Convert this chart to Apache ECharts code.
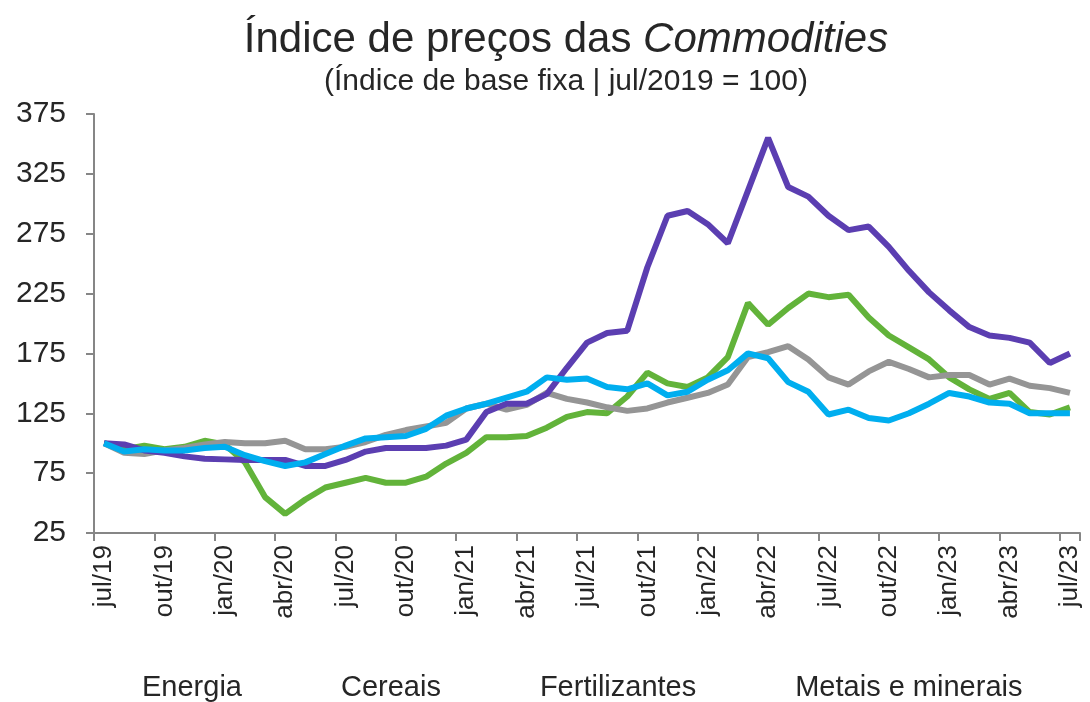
<!DOCTYPE html>
<html>
<head>
<meta charset="utf-8">
<script src="https://cdn.jsdelivr.net/npm/echarts@6/dist/echarts.min.js"></script>
<style>
html,body{margin:0;padding:0;background:#fff;}
#chart{width:1090px;height:702px;}
</style>
</head>
<body>
<div id="chart"></div>
<script>
const months = ['jul/19','ago/19','set/19','out/19','nov/19','dez/19',
  'jan/20','fev/20','mar/20','abr/20','mai/20','jun/20','jul/20','ago/20','set/20','out/20','nov/20','dez/20',
  'jan/21','fev/21','mar/21','abr/21','mai/21','jun/21','jul/21','ago/21','set/21','out/21','nov/21','dez/21',
  'jan/22','fev/22','mar/22','abr/22','mai/22','jun/22','jul/22','ago/22','set/22','out/22','nov/22','dez/22',
  'jan/23','fev/23','mar/23','abr/23','mai/23','jun/23','jul/23'];

const energia = [100,95,98,95,97,102,99,84,55,41,53,63,67,71,67,67,72,83,92,105,105,106,113,122,
  126,125,139,159,150,147,155,172,217,199,213,225,222,224,205,190,180,170,155,145,137,142,126,124,130];
const cereais = [100,92,91,94,96,99,101,100,100,102,95,95,97,101,107,111,114,117,129,133,128,132,142,137,
  134,130,127,129,134,138,142,149,172,176,181,170,155,149,160,168,162,155,157,157,149,154,148,146,142];
const fertilizantes = [100,99,94,92,89,87,86.5,86,86,86,81,81,86,93,96,96,96,98,103,126,133,133,141,163,
  184,192,194,247,290,294,283,267,311,355,314,306,290,278,281,264,244,226,211,197,190,188,184,167,175];
const metais = [100,93,95,94,94,96,97,90,85,81,84,91,98,104,105,106,112,123,129,133,138,143,155,153,
  154,147,145,150,140,143,153,161,175,171,151,143,124,128,121,119,125,133,142,139,134,133,125,125,125];

const seriesNames = ['Energia','Cereais','Fertilizantes','Metais e minerais'];
const seriesColors = ['#62B33A','#959595','#5B3EB1','#00AEEF'];
const seriesData = [energia, cereais, fertilizantes, metais];

const FONT = '"Liberation Sans", Arial, sans-serif';
const TXT = '#262626';

const chart = echarts.init(document.getElementById('chart'), null, {renderer:'canvas'});
chart.setOption({
  backgroundColor: '#ffffff',
  animation: false,
  title: [
    {
      text: '{a|Índice de preços das }{b|Commodities}',
      left: 561, top: 14, textAlign: 'center',
      textStyle: {
        rich: {
          a: {fontFamily: FONT, fontSize: 42, color: TXT, fontWeight: 'normal'},
          b: {fontFamily: FONT, fontSize: 42, color: TXT, fontWeight: 'normal', fontStyle: 'italic'}
        }
      }
    },
    {
      text: '(Índice de base fixa | jul/2019 = 100)',
      left: 561, top: 62, textAlign: 'center',
      textStyle: {fontFamily: FONT, fontSize: 30, color: TXT, fontWeight: 'normal'}
    }
  ],
  legend: {
    data: seriesNames,
    left: 132, top: 668,
    icon: 'none', itemWidth: 0, itemHeight: 0, itemGap: 94,
    textStyle: {fontFamily: FONT, fontSize: 29, color: TXT},
    selectedMode: false
  },
  grid: {left: 94, right: 10, top: 114, bottom: 169, containLabel: false},
  xAxis: {
    type: 'category',
    data: months,
    boundaryGap: true,
    axisLine: {lineStyle: {color: '#868686', width: 2}},
    axisTick: {show: true, interval: 2, length: 8, lineStyle: {color: '#868686', width: 2}},
    axisLabel: {interval: 2, rotate: 90, margin: 12, fontFamily: FONT, fontSize: 26, color: TXT},
    splitLine: {show: false}
  },
  yAxis: {
    type: 'value',
    min: 25, max: 375, interval: 50,
    axisLine: {show: true, lineStyle: {color: '#868686', width: 2}},
    axisTick: {show: true, length: 8, lineStyle: {color: '#868686', width: 2}},
    axisLabel: {margin: 28, fontFamily: FONT, fontSize: 30, color: TXT},
    splitLine: {show: false}
  },
  series: seriesNames.map((n, i) => ({
    name: n,
    type: 'line',
    data: seriesData[i],
    showSymbol: false,
    symbol: 'none',
    lineStyle: {color: seriesColors[i], width: 6},
    itemStyle: {color: seriesColors[i]},
    z: 2 + i
  }))
});
</script>
</body>
</html>
